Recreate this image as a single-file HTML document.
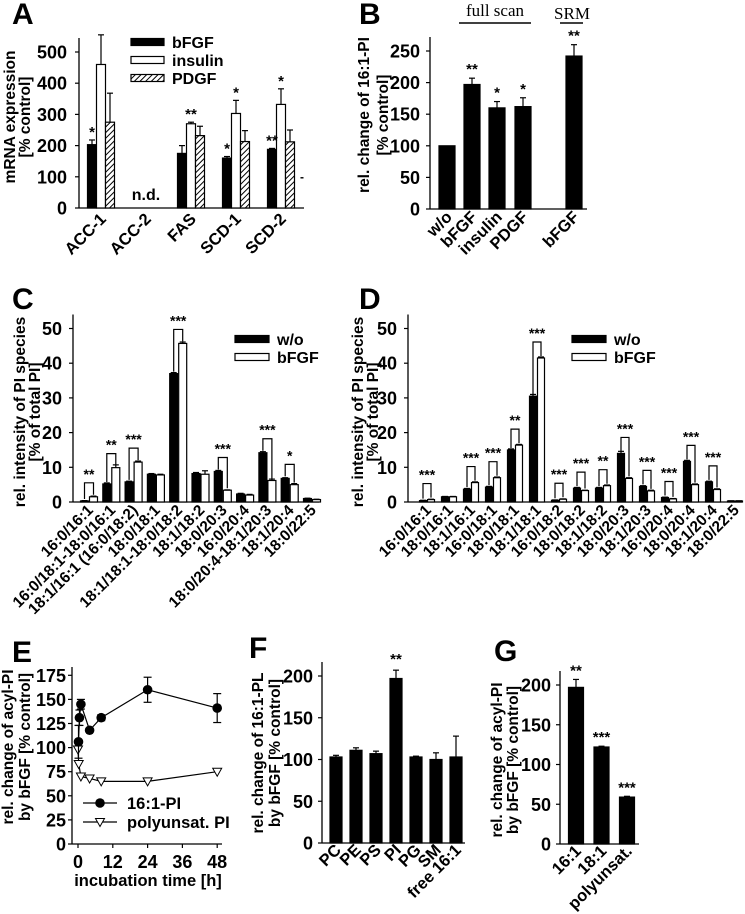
<!DOCTYPE html>
<html><head><meta charset="utf-8"><style>
html,body{margin:0;padding:0;background:#fff;}
svg{display:block;font-family:"Liberation Sans",Arial,sans-serif;font-weight:bold;}
</style></head><body>
<svg id="fig" width="745" height="914" viewBox="0 0 745 914" xmlns="http://www.w3.org/2000/svg">
<defs>
<pattern id="hatch" patternUnits="userSpaceOnUse" width="4" height="4" patternTransform="rotate(45)">
<rect width="4" height="4" fill="#fff"/><line x1="0" y1="0" x2="0" y2="4" stroke="#000" stroke-width="2"/>
</pattern>
</defs>
</svg>
<script>
// ---- Panel A data ----
const aCategories=['ACC-1','ACC-2','FAS','SCD-1','SCD-2'];
const aBfgf=[203,null,175,160,188];
const aBfgfErr=[15,null,25,5,3];
const aInsulin=[460,null,270,303,332];
const aInsulinErr=[95,null,5,42,50];
const aPdgf=[275,null,232,213,212];
const aPdgfErr=[93,null,30,35,38];
const aBfgfSig=['*','','','*','**'];
const aInsulinSig=['','','**','*','*'];
const aTicks=[0,100,200,300,400,500];
// ---- Panel B data ----
const bCategories=['w/o','bFGF','insulin','PDGF','bFGF'];
const bValues=[100,197,160,162,242];
const bErr=[0,10,10,14,18];
const bSig=['','**','*','*','**'];
const bTicks=[0,50,100,150,200,250];
// ---- Panel C data ----
const cCategories=['16:0/16:1','16:0/18:1-18:0/16:1','18:1/16:1 (16:0/18:2)','18:0/18:1','18:1/18:1-18:0/18:2','18:1/18:2','18:0/20:3','16:0/20:4','18:0/20:4-18:1/20:3','18:1/20:4','18:0/22:5'];
const cWo=[0.3,5.2,5.8,8,37,8.2,8.8,2.3,14.2,6.8,1];
const cBfgf=[1.5,9.9,11.5,7.8,45.7,8,3.4,2,6.2,5,0.7];
const cWoErr=[0.1,0.3,0.2,0.2,0.3,0.3,0.3,0.2,0.3,0.2,0.1];
const cBfgfErr=[0.2,0.8,0.3,0.2,0.4,1,0.1,0.2,0.4,0.3,0.1];
const cSig=['**','**','***','','***','','***','','***','*',''];
const cTicks=[0,10,20,30,40,50];
// ---- Panel D data ----
const dCategories=['16:0/16:1','18:0/16:1','18:1/16:1','16:0/18:1','18:0/18:1','18:1/18:1','16:0/18:2','18:0/18:2','18:1/18:2','18:0/20:3','18:1/20:3','16:0/20:4','18:0/20:4','18:1/20:4','18:0/22:5'];
const dWo=[0.4,1.5,3.7,4.3,15,30.5,0.5,4,4,14,4.5,1.3,11.7,5.8,0.3];
const dBfgf=[0.7,1.5,5.6,7,16.4,41.5,0.8,3.3,4.7,6.8,3.2,0.9,5,3.6,0.3];
const dWoErr=[0.1,0.1,0.2,0.2,0.3,0.5,0.1,0.2,0.2,0.6,0.2,0.1,0.3,0.2,0.05];
const dBfgfErr=[0.1,0.1,0.2,0.2,0.2,0.3,0.1,0.1,0.2,0.2,0.2,0.1,0.2,0.2,0.05];
const dSig=['***','','***','***','**','***','***','***','**','***','***','***','***','***',''];
const dTicks=[0,10,20,30,40,50];
// ---- Panel E data ----
const eTimes16=[0.17,0.5,1,4,8,24,48];
const e16=[106,131,145,118,131,160,141];
const e16Err=[17,8,5,2,3,13,15];
const eTimesPoly=[0,0.25,1,4,8,24,48];
const ePoly=[98,83,70,68,65,65,75];
const ePolyErr=[3,3,2,1,1,1,1];
const eXTicks=[0,12,24,36,48];
const eYTicks=[0,25,50,75,100,125,150,175];
// ---- Panel F data ----
const fCategories=['PC','PE','PS','PI','PG','SM','free 16:1'];
const fValues=[103,111,107,197,103,100,103];
const fErr=[2,3,3,10,1,8,25];
const fSig=['','','','**','','',''];
const fTicks=[0,50,100,150,200];
// ---- Panel G data ----
const gCategories=['16:1','18:1','polyunsat.'];
const gValues=[197,122,59];
const gErr=[10,1,1];
const gSig=['**','***','***'];
const gTicks=[0,50,100,150,200];

const NS='http://www.w3.org/2000/svg';
const svg=document.getElementById('fig');
function mk(tag,attrs,parent){const e=document.createElementNS(NS,tag);for(const k in attrs)e.setAttribute(k,attrs[k]);(parent||svg).appendChild(e);return e;}
function text(x,y,s,size,anchor,parent,rot){const t=mk('text',{x:x,y:y,'font-size':size,'text-anchor':anchor||'start'},parent);t.textContent=s;if(rot!==undefined)t.setAttribute('transform','rotate('+rot+' '+x+' '+y+')');return t;}
function group(name){const g=mk('g',{});


return g;}

function yAxis(g,x0,x1,yTop,scale,ticks,gap){
  gap=gap||10;
  const ax=mk('line',{x1:x0,y1:scale(ticks[ticks.length-1])-14,x2:x0,y2:scale(0),stroke:'#000','stroke-width':1.3},g);
  
  
  const xa=mk('line',{x1:x0,y1:scale(0),x2:x1,y2:scale(0),stroke:'#000','stroke-width':1.3},g);
  
  
  ticks.forEach(v=>{const y=scale(v);
    mk('line',{x1:x0-4,y1:y,x2:x0,y2:y,stroke:'#000','stroke-width':1.2},g);
    const t=text(x0-gap,y+6.5,String(v),18,'end',g);
    
    
  });
}
function bar(g,cx,w,v,scale,fill,name){
  const y=scale(v),y0=scale(0);
  const r=mk('rect',{x:cx-w/2,y:y,width:w,height:Math.max(0,y0-y),fill:fill,stroke:'#000','stroke-width':1.2},g);
  
  
  return r;
}
function err(g,cx,v,e,scale){
  if(!e)return;const y=scale(v),ye=scale(v+e);
  mk('line',{x1:cx,y1:y,x2:cx,y2:ye,stroke:'#000','stroke-width':1.2},g);
  mk('line',{x1:cx-3,y1:ye,x2:cx+3,y2:ye,stroke:'#000','stroke-width':1.2},g);
}
function ytitle(g,x,y,s,size){const t=text(x,y,s,size||15.5,'middle',g,-90);
  
  }
function letter(x,y,s){const t=text(x,y,s,30,'start');
  
  }
function xlab(g,x,y,s,size){const t=text(x,y,s,size,'end',g,-45);
  
  }

// ================= Panel A =================
(function(){
  const g=group('panel-a');
  letter(12,24,'A');
  const sc=v=>208-v*0.312;
  const gx=i=>101+i*45;
  yAxis(g,79,304,32,sc,aTicks,12);
  ytitle(g,15,117,'mRNA expression');
  ytitle(g,30,117,'[% control]');
  aCategories.forEach((c,i)=>{
    const cx=gx(i);
    if(aBfgf[i]!==null){
      bar(g,cx-9,9,aBfgf[i],sc,'#000','bar-bfgf');err(g,cx-9,aBfgf[i],aBfgfErr[i],sc);
      bar(g,cx,9,aInsulin[i],sc,'#fff','bar-insulin');err(g,cx,aInsulin[i],aInsulinErr[i],sc);
      bar(g,cx+9,9,aPdgf[i],sc,'url(#hatch)','bar-pdgf');err(g,cx+9,aPdgf[i],aPdgfErr[i],sc);
      if(aBfgfSig[i])text(cx-9,sc(aBfgf[i]+aBfgfErr[i])-3,aBfgfSig[i],15,'middle',g);
      if(aInsulinSig[i])text(cx,sc(aInsulin[i]+aInsulinErr[i])-3,aInsulinSig[i],15,'middle',g);
    } else {
      const t=text(cx,200,'n.d.',16,'middle',g);
      
      
    }
    xlab(g,cx+6,220,c,16.5);
  });
  text(302,181,'-',12,'middle',g);
  const leg=[['bFGF','#000'],['insulin','#fff'],['PDGF','url(#hatch)']];
  leg.forEach((l,i)=>{const y=42+i*18;
    const r=mk('rect',{x:131,y:y-3.5,width:33,height:7,fill:l[1],stroke:'#000','stroke-width':1.2},g);
    
    
    const t=text(172,y+6,l[0],16,'start',g);
    
    
  });
})();

// ================= Panel B =================
(function(){
  const g=group('panel-b');
  letter(359,24,'B');
  const sc=v=>209-v*0.632;
  const xs=[447,472,497,523,574];
  yAxis(g,430,587,35,sc,bTicks,10);
  ytitle(g,369,115,'rel. change of 16:1-PI');
  ytitle(g,388,115,'[% control]');
  bCategories.forEach((c,i)=>{
    bar(g,xs[i],16,bValues[i],sc,'#000','bar-'+c);
    err(g,xs[i],bValues[i],bErr[i],sc);
    if(bSig[i])text(xs[i],sc(bValues[i]+bErr[i])-4,bSig[i],15,'middle',g);
    xlab(g,xs[i]+6,218,c,16.5);
  });
  const t1=mk('text',{x:495,y:16,'font-size':17,'text-anchor':'middle','font-family':'Liberation Serif, serif','font-weight':'normal'},g);
  t1.textContent='full scan';
  
  
  mk('line',{x1:459,y1:23,x2:531,y2:23,stroke:'#000','stroke-width':1.5},g);
  const t2=mk('text',{x:572,y:19,'font-size':17,'text-anchor':'middle','font-family':'Liberation Serif, serif','font-weight':'normal'},g);
  t2.textContent='SRM';
  
  
  mk('line',{x1:560,y1:23,x2:583,y2:23,stroke:'#000','stroke-width':1.5},g);
})();

// ================= Panels C & D =================
function pairPanel(name,ax,xEnd,c0,sp,bw,cats,wo,bf,woE,bfE,sig,ticks,lx,brH){
  const g=group(name);
  const sc=v=>502-v*3.47;
  yAxis(g,ax,xEnd,329,sc,ticks,11);
  cats.forEach((c,i)=>{
    const cx=c0+i*sp,xb=cx-bw/2-0.5,xw=cx+bw/2+0.5;
    bar(g,xb,bw,wo[i],sc,'#000','bar-wo');err(g,xb,wo[i],woE[i],sc);
    bar(g,xw,bw,bf[i],sc,'#fff','bar-bfgf');err(g,xw,bf[i],bfE[i],sc);
    if(sig[i]){
      const top=sc(Math.max(wo[i],bf[i]))-brH;
      const p=mk('path',{d:'M'+xb+' '+(sc(wo[i])-2)+'V'+top+'H'+xw+'V'+(sc(bf[i])-2),fill:'none',stroke:'#000','stroke-width':1.2},g);
      
      
      text(cx,top-4,sig[i],14,'middle',g);
    }
    xlab(g,cx+5,511,c,15.5);
  });
  [['w/o','#000'],['bFGF','#fff']].forEach((l,i)=>{const y=339+i*18;
    const r=mk('rect',{x:lx,y:y-3.5,width:34,height:7,fill:l[1],stroke:'#000','stroke-width':1.2},g);
    
    
    const t=text(lx+42,y+6,l[0],16,'start',g);
    
    
  });
  return g;
}
letter(12,309,'C');
const gc=pairPanel('panel-c',73,319,89,22.3,8,cCategories,cWo,cBfgf,cWoErr,cBfgfErr,cSig,cTicks,235,14);
ytitle(gc,25,412,'rel. intensity of PI species');
ytitle(gc,40,412,'[% of total PI]');
letter(359,309,'D');
const gd=pairPanel('panel-d',408,742,427,22,7,dCategories,dWo,dBfgf,dWoErr,dBfgfErr,dSig,dTicks,572,16);
ytitle(gd,363,412,'rel. intensity of PI species');
ytitle(gd,378,412,'[% of total PI]');

// ================= Panel E =================
(function(){
  const g=group('panel-e');
  letter(12,662,'E');
  const sy=v=>844-v*0.964;
  const sx=t=>78+t*2.9;
  const ax=mk('line',{x1:72,y1:667,x2:72,y2:844,stroke:'#000','stroke-width':1.3},g);
  
  
  const xa=mk('line',{x1:72,y1:844,x2:222,y2:844,stroke:'#000','stroke-width':1.3},g);
  
  
  eYTicks.forEach(v=>{const y=sy(v);mk('line',{x1:68,y1:y,x2:72,y2:y,stroke:'#000','stroke-width':1.2},g);
    const t=text(66,y+6.5,String(v),18,'end',g);
    
    });
  eXTicks.forEach(v=>{const x=sx(v);mk('line',{x1:x,y1:844,x2:x,y2:848,stroke:'#000','stroke-width':1.2},g);
    const t=text(x,868,String(v),18,'middle',g);
    
    });
  const xt=text(148,886,'incubation time [h]',16.5,'middle',g);
  
  
  ytitle(g,13,747,'rel. change of acyl-PI');
  ytitle(g,30,747,'by bFGF [% control]');
  const lp=mk('polyline',{points:eTimesPoly.map((t,i)=>sx(t)+','+sy(ePoly[i])).join(' '),fill:'none',stroke:'#000','stroke-width':1.2},g);
  
  
  eTimesPoly.forEach((t,i)=>{err(g,sx(t),ePoly[i],ePolyErr[i],sy);
    const x=sx(t),y=sy(ePoly[i]);
    const m=mk('path',{d:'M'+(x-4.5)+' '+(y-3.5)+'H'+(x+4.5)+'L'+x+' '+(y+4.5)+'Z',fill:'#fff',stroke:'#000','stroke-width':1},g);
    
    });
  const l16=mk('polyline',{points:eTimes16.map((t,i)=>sx(t)+','+sy(e16[i])).join(' '),fill:'none',stroke:'#000','stroke-width':1.2},g);
  
  
  eTimes16.forEach((t,i)=>{const x=sx(t);
    mk('line',{x1:x,y1:sy(e16[i]-e16Err[i]),x2:x,y2:sy(e16[i]+e16Err[i]),stroke:'#000','stroke-width':1.2},g);
    mk('line',{x1:x-4,y1:sy(e16[i]-e16Err[i]),x2:x+4,y2:sy(e16[i]-e16Err[i]),stroke:'#000','stroke-width':1.2},g);
    mk('line',{x1:x-4,y1:sy(e16[i]+e16Err[i]),x2:x+4,y2:sy(e16[i]+e16Err[i]),stroke:'#000','stroke-width':1.2},g);
    const c=mk('circle',{cx:x,cy:sy(e16[i]),r:4.8,fill:'#000'},g);
    
    });
  mk('line',{x1:83,y1:803,x2:117,y2:803,stroke:'#000','stroke-width':1.2},g);
  mk('circle',{cx:100,cy:803,r:4.8,fill:'#000'},g);
  const t1=text(127,809,'16:1-PI',16.5,'start',g);
  
  
  mk('line',{x1:83,y1:822,x2:117,y2:822,stroke:'#000','stroke-width':1.2},g);
  mk('path',{d:'M95.5 818.5H104.5L100 826.5Z',fill:'#fff',stroke:'#000','stroke-width':1},g);
  const t2=text(127,828,'polyunsat. PI',16.5,'start',g);
  
  
})();

// ================= Panel F =================
(function(){
  const g=group('panel-f');
  letter(249,658,'F');
  const sc=v=>843-v*0.835;
  yAxis(g,322,465,676,sc,fTicks,9);
  ytitle(g,263,753,'rel. change of 16:1-PL');
  ytitle(g,280,753,'by bFGF [% control]');
  fCategories.forEach((c,i)=>{const cx=336+i*20;
    bar(g,cx,12,fValues[i],sc,'#000','bar-'+c);err(g,cx,fValues[i],fErr[i],sc);
    if(fSig[i])text(cx,sc(fValues[i]+fErr[i])-6,fSig[i],15,'middle',g);
    xlab(g,cx+6,851,c,16.5);});
})();

// ================= Panel G =================
(function(){
  const g=group('panel-g');
  letter(494,661,'G');
  const sc=v=>844-v*0.795;
  yAxis(g,560,639,685,sc,gTicks,9);
  ytitle(g,502,760,'rel. change of acyl-PI');
  ytitle(g,518,760,'by bFGF [% control]');
  gCategories.forEach((c,i)=>{const cx=576+i*25.5;
    bar(g,cx,15,gValues[i],sc,'#000','bar-'+c);err(g,cx,gValues[i],gErr[i],sc);
    if(gSig[i])text(cx,sc(gValues[i]+gErr[i])-4,gSig[i],15,'middle',g);
    xlab(g,cx+6,852,c,16.5);});
})();
</script>
</body></html>
